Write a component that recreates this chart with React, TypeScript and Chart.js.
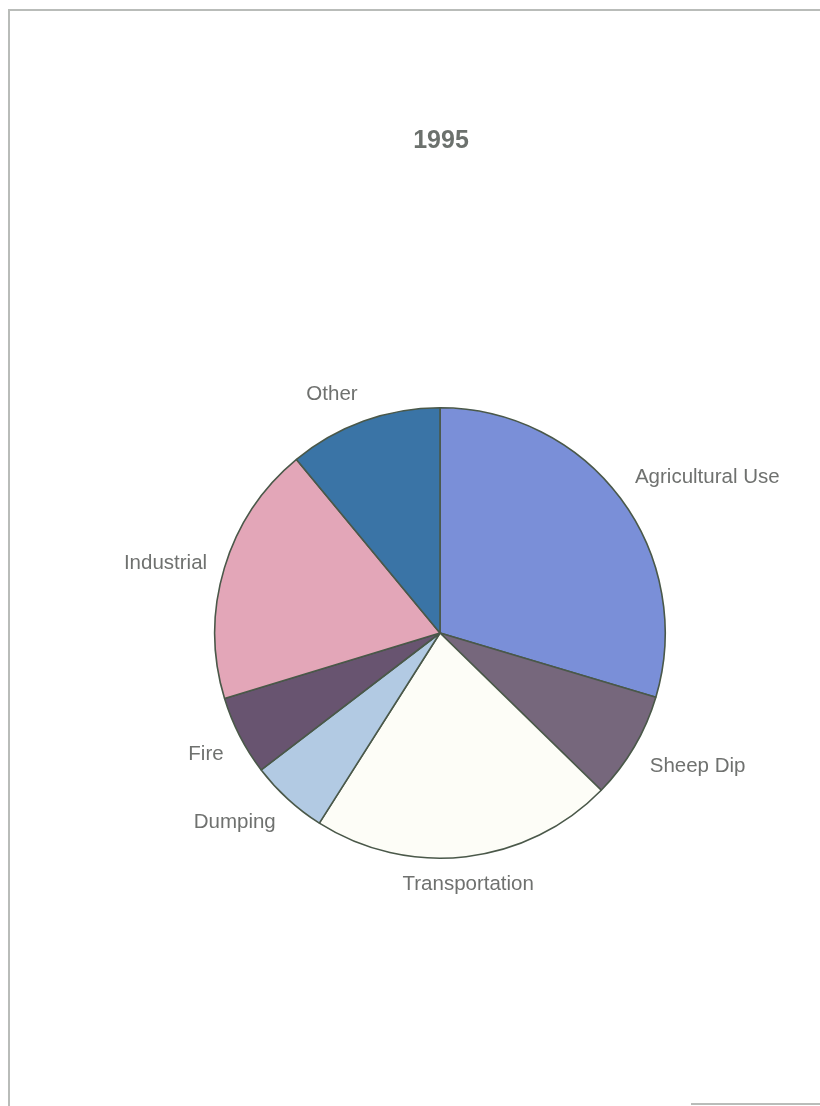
import React, { useEffect, useRef } from "react";
import { Chart, registerables } from "chart.js";

Chart.register(...registerables);

const chartTitle = "1995";
const categories = ["Agricultural Use", "Sheep Dip", "Transportation", "Dumping", "Fire", "Industrial", "Other"];
const shares = [29.6, 7.7, 21.7, 5.6, 5.7, 18.7, 11.0];
const sliceColors = ["#7a8fd8", "#76677c", "#fdfdf7", "#b2cae3", "#685470", "#e3a6b8", "#3a74a6"];

const labelPlugin = {
  id: "outsideLabels",
  afterDraw(chart: any) {
    const ctx = chart.ctx;
    const meta = chart.getDatasetMeta(0);
    ctx.save();
    ctx.fillStyle = "#6f716f";
    ctx.font = "20.5px 'Liberation Sans', Arial, sans-serif";
    meta.data.forEach((arc: any, i: number) => {
      const mid = (arc.startAngle + arc.endAngle) / 2;
      const dx = Math.cos(mid);
      const dy = Math.sin(mid);
      const r = arc.outerRadius + 18;
      const px = arc.x + dx * r;
      const py = arc.y + dy * r;
      const text = chart.data.labels[i];
      ctx.textAlign = dx > 0.3 ? "left" : dx < -0.3 ? "right" : "center";
      ctx.textBaseline = dy > 0.3 ? "top" : dy < -0.3 ? "bottom" : "middle";
      ctx.fillText(text, px, py);
    });
    // title
    ctx.font = "bold 25px 'Liberation Sans', Arial, sans-serif";
    ctx.textAlign = "center";
    ctx.textBaseline = "middle";
    ctx.fillStyle = "#6c716d";
    ctx.fillText(chartTitle, 441, 141);
    ctx.restore();
  },
};

export default function App() {
  const ref = useRef<HTMLCanvasElement>(null);
  useEffect(() => {
    if (!ref.current) return;
    const chart = new Chart(ref.current, {
      type: "pie",
      data: {
        labels: categories,
        datasets: [
          {
            data: shares,
            backgroundColor: sliceColors,
            borderColor: "#4a5849",
            borderWidth: 1.6,
          },
        ],
      },
      options: {
        animation: false,
        responsive: false,
        maintainAspectRatio: false,
        layout: { padding: { left: 214, right: 154, top: 407, bottom: 247 } },
        plugins: {
          legend: { display: false },
          title: { display: false },
          tooltip: { enabled: false },
        },
      },
      plugins: [labelPlugin],
    });
    return () => chart.destroy();
  }, []);
  return (
    <div style={{ position: "absolute", left: 0, top: 0, width: 820, height: 1106, background: "#ffffff", overflow: "hidden" }}>
      <div
        style={{
          position: "absolute",
          left: 8,
          top: 9,
          width: 830,
          height: 1100,
          borderLeft: "2px solid #b9bcb9",
          borderTop: "2px solid #b9bcb9",
        }}
      />
      <div
        style={{
          position: "absolute",
          left: 691,
          top: 1103,
          width: 140,
          height: 0,
          borderTop: "2px solid #b9bcb9",
        }}
      />
      <canvas ref={ref} width={820} height={1106} style={{ position: "absolute", left: 0, top: 0 }} />
    </div>
  );
}
